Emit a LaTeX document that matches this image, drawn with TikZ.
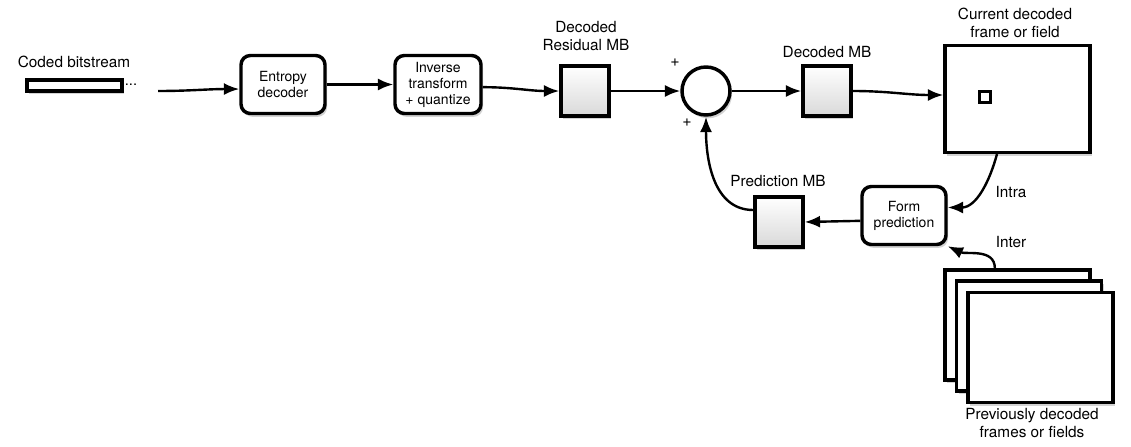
\documentclass[tikz,border=0pt]{standalone}
\usepackage{fontspec}
\setmainfont{TeX Gyre Heros}
\usetikzlibrary{arrows.meta,shadows}

\tikzset{
  shadowed/.style={drop shadow={shadow xshift=1.5pt, shadow yshift=-2.5pt, opacity=0.35, fill=gray}},
  block/.style={draw, line width=2.6pt, rounded corners=7pt, fill=white, shadowed, align=center,
    inner sep=0pt, minimum width=63pt, minimum height=43.5pt, font=\fontsize{10.5}{12}\selectfont},
  mbbox/.style={draw, line width=2.6pt, shadowed, top color=white, bottom color=gray!30,
    inner sep=0pt, minimum width=36pt, minimum height=37.5pt},
  picbox/.style={draw, line width=2.6pt, fill=white, shadowed, inner sep=0pt,
    minimum width=108.75pt, minimum height=80pt},
  lbl/.style={align=center, font=\fontsize{11.5}{13}\selectfont},
  arr/.style={-{Latex[length=11.5pt,width=9pt]}, line width=1.8pt},
}

\begin{document}
\begin{tikzpicture}[x=0.75pt, y=-0.75pt]
\useasboundingbox (0,0) rectangle (1131,446);

% --- Bitstream input ---
\node (lbl_bits) [lbl] at (74,62) {Coded bitstream};
\node (bits) [draw, line width=2.6pt, fill=white, shadowed, inner sep=0pt, minimum width=71pt, minimum height=8.25pt] at (74.5,85.5) {};
\node (dots) [font=\fontsize{11}{13}\selectfont] at (131,85) {...};
\coordinate (bits_end) at (158,91);

% --- Decoding chain ---
\node (entropy) [block] at (283,84.5) {Entropy\\decoder};
\node (inverse) [block, minimum width=64.5pt] at (438,84.5) {Inverse\\transform\\+ quantize};
\node (residual) [mbbox] at (585,91) {};
\node (lbl_residual) [lbl] at (586,36) {Decoded\\Residual MB};
\node (sum) [draw, circle, line width=2.6pt, fill=white, shadowed, inner sep=0pt, minimum size=36pt] at (706,91) {};
\node (plus_top) [font=\fontsize{12}{14}\selectfont] at (675,63) {+};
\node (plus_bot) [font=\fontsize{12}{14}\selectfont] at (687,123) {+};
\node (decoded) [mbbox] at (827,91) {};
\node (lbl_decoded) [lbl] at (827,52) {Decoded MB};

% --- Current frame ---
\node (current) [picbox] at (1017.5,99) {};
\node (lbl_current) [lbl] at (1015,23) {Current decoded\\frame or field};
\node (mb_spot) [draw, line width=2.6pt, fill=white, inner sep=0pt, minimum size=8pt] at (985,97) {};

% --- Prediction ---
\node (form) [block] at (904,215.5) {Form\\prediction};
\node (predmb) [mbbox] at (779,222) {};
\node (lbl_predmb) [lbl] at (778,181) {Prediction MB};
\node (lbl_intra) [lbl] at (1011,192) {Intra};
\node (lbl_inter) [lbl] at (1011,242) {Inter};

% --- Previous frames ---
\node (prev_back) [picbox, minimum height=82.5pt] at (1017.5,325) {};
\node (prev_mid) [picbox, minimum height=82.5pt] at (1029,336) {};
\node (prev_front) [picbox, minimum height=82.5pt] at (1040.5,347.5) {};
\node (lbl_prev) [lbl] at (1032,423) {Previously decoded\\frames or fields};

% --- Connectors ---
\draw[arr] (bits_end) to[out=0,in=180] ([yshift=-3.4pt]entropy.west);
\draw[arr] (entropy.east) -- (inverse.west);
\draw[arr] ([yshift=-2pt]inverse.east) to[out=0,in=180] (residual.west);
\draw[arr] (residual.east) -- (sum.west);
\draw[arr] (sum.east) -- (decoded.west);
\draw[arr] (decoded.east) to[out=0,in=180] ([yshift=3pt]current.west);
\draw[arr] ([xshift=-15.4pt]current.south) to[out=-105,in=0] ([yshift=6pt]form.east);
\draw[arr] ([xshift=-17pt]prev_back.north) to[out=90,in=-25] (form.south east);
\draw[arr] ([yshift=-4pt]form.west) -- (predmb.east);
\draw[arr] ([yshift=9pt]predmb.west) to[out=180,in=-90] (sum.south);

\end{tikzpicture}
\end{document}
